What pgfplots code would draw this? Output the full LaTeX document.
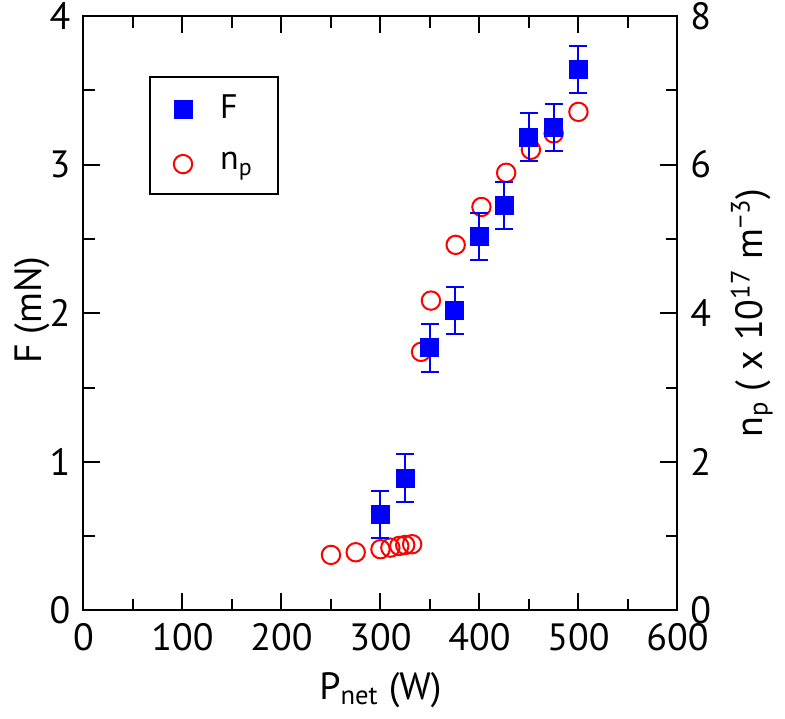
\documentclass[border=0pt]{standalone}
\usepackage{pgfplots}
\pgfplotsset{compat=1.18}
\usepackage{fontspec}
\setmainfont{PT Sans}
\definecolor{pblue}{RGB}{0,0,255}
\definecolor{pred}{RGB}{255,0,0}
\begin{document}
\fontsize{19}{22}\selectfont
\begin{tikzpicture}
\pgfplotsset{
  common/.style={
    scale only axis, width=297pt, height=297.25pt,
    xmin=0, xmax=600,
    axis line style={line width=1pt},
    tick style={line width=1pt, black},
    tick align=inside,
    major tick length=8.5pt, minor tick length=5.8pt,
    minor tick num=1,
    /pgf/number format/assume math mode=true,
    tick label style={font=\fontsize{19}{22}\selectfont},
    label style={font=\fontsize{19}{22}\selectfont},
    clip=false,
  }
}
% right axis: n_p
\begin{axis}[common,
  ymin=0, ymax=8, ytick={0,2,4,6,8},
  hide x axis,
  ytick pos=right, yticklabel pos=right,
  ylabel={n\textsubscript{p} ( x 10\textsuperscript{17} m\textsuperscript{−3})},
  ylabel style={at={(axis description cs:1.125,0.5)}, anchor=center},
]
\addplot[only marks, mark=o, mark size=4.6pt, pred, line width=1pt] coordinates {
(250,0.747) (275,0.783) (300,0.824) (310,0.845) (319,0.868) (325,0.881) (332,0.891)
(341,3.48) (351,4.17) (376,4.92) (402,5.43) (427,5.89) (452,6.20) (475,6.42) (500,6.71)
};
\end{axis}
% left axis: F
\begin{axis}[common,
  ymin=0, ymax=4, ytick={0,1,2,3,4},
  xtick={0,100,...,600},
  xtick pos=both, xticklabel pos=lower,
  ytick pos=left,
  xlabel={P\textsubscript{net} (W)},
  ylabel={F (mN)},
  xlabel style={at={(axis description cs:0.5,-0.1337)}, anchor=center},
  ylabel style={at={(axis description cs:-0.0867,0.505)}, anchor=center},
  legend image code/.code={\draw[#1] plot coordinates {(0pt,0pt)};},
  legend style={at={(axis description cs:0.110,0.899)}, anchor=north west,
    draw=black, line width=1pt, font=\fontsize{17}{20}\selectfont,
    inner xsep=12pt, inner ysep=7pt, row sep=10pt,
    /tikz/every odd column/.append style={column sep=12pt},
    nodes={text width=15pt, align=left}},
  legend cell align=left,
]
\addplot[only marks, mark=square*, mark size=4.25pt, pblue, line width=1pt,
  error bars/.cd, y dir=both, y explicit,
  error bar style={line width=1pt, pblue},
  error mark options={rotate=90, mark size=4.5pt, line width=1pt, pblue}]
 coordinates {
(300,0.647) +- (0,0.16)
(325,0.890) +- (0,0.16)
(350,1.766) +- (0,0.16)
(375,2.017) +- (0,0.16)
(400,2.515) +- (0,0.16)
(425,2.724) +- (0,0.16)
(450,3.184) +- (0,0.16)
(475,3.25) +- (0,0.16)
(500,3.64) +- (0,0.16)
};
\addlegendentry{F}
\addlegendimage{only marks, mark=o, mark size=4.6pt, pred, line width=1pt}
\addlegendentry{n\textsubscript{p}}
\end{axis}
\pgfresetboundingbox
\path (-41.75pt,-54.25pt) rectangle (350.8pt,305.25pt);
\end{tikzpicture}
\end{document}
